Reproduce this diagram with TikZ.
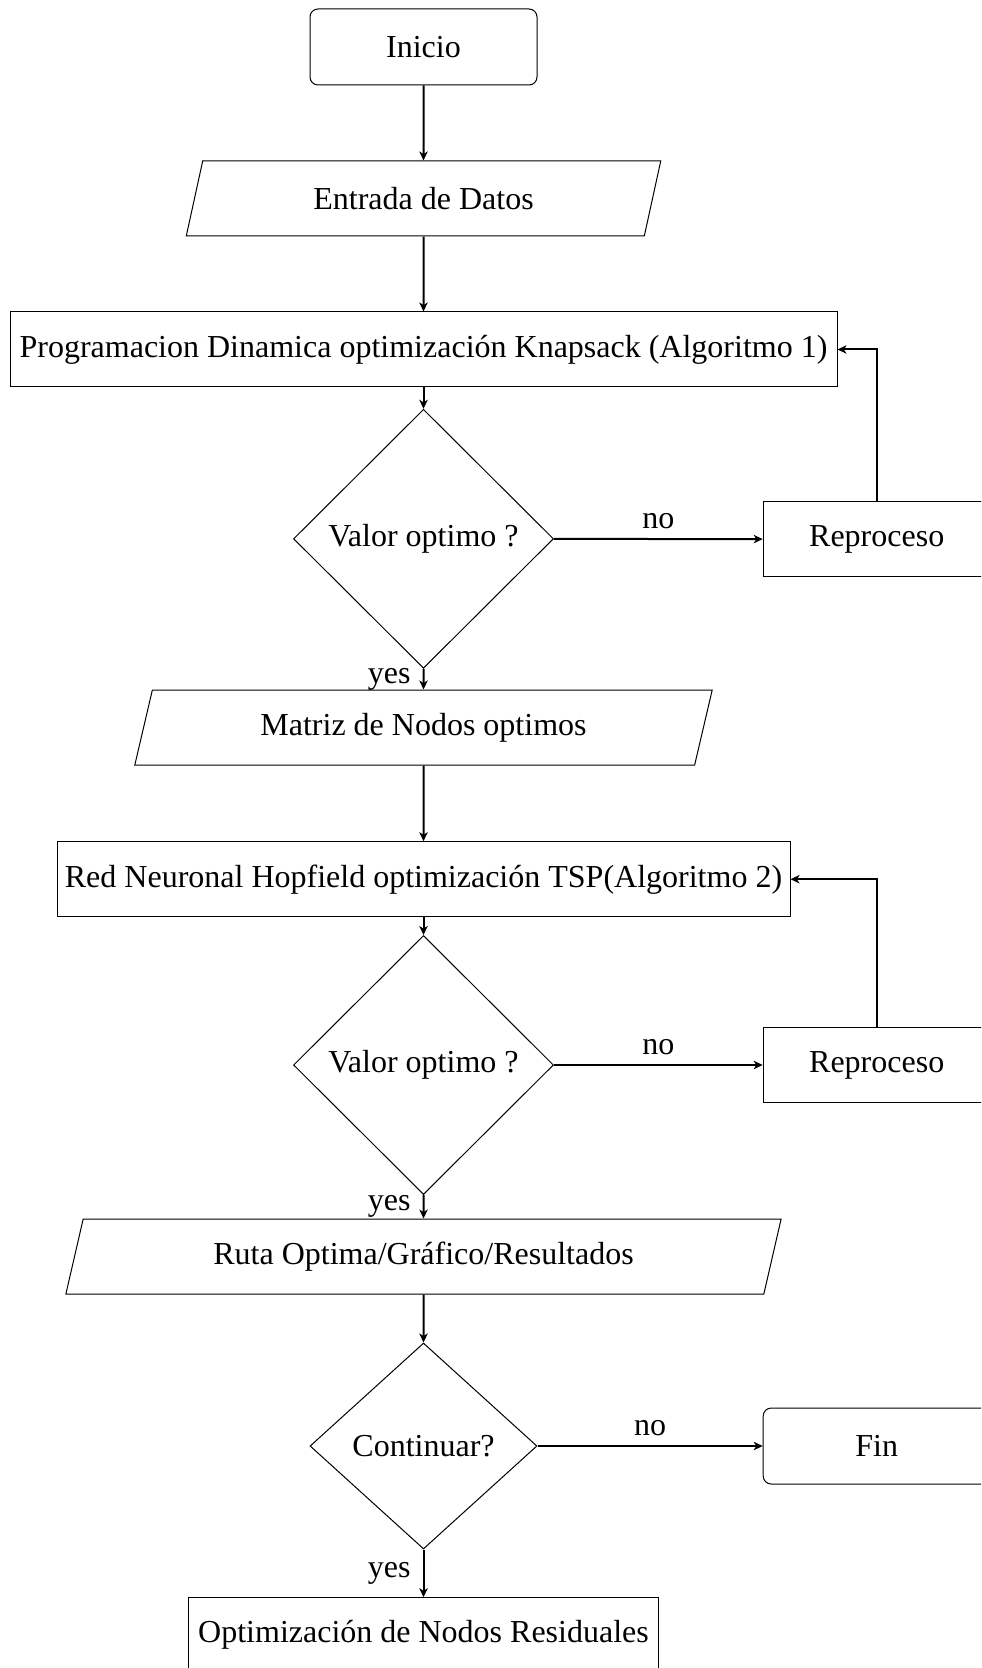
\documentclass[tikz,border=0pt]{standalone}
\usepackage{fontspec}
\setmainfont{Liberation Serif}
\usetikzlibrary{shapes.geometric,arrows.meta}
\begin{document}
\begin{tikzpicture}[x=0.5pt,y=-0.5pt,
  base/.style={draw=black, line width=0.5pt, font=\fontsize{16}{19}\selectfont,
    align=center, inner sep=0pt},
  startstop/.style={base, rectangle, rounded corners=4pt,
    minimum width=113.5pt, minimum height=38pt},
  io/.style={base, trapezium, trapezium left angle=70, trapezium right angle=110,
    trapezium stretches=true, minimum height=37.5pt},
  process/.style={base, rectangle, minimum height=37.5pt},
  decision/.style={base, diamond},
  flow/.style={-{Stealth[length=4.5pt, width=4.2pt, inset=1.3pt]}, line width=1pt},
  lbl/.style={font=\fontsize{16}{19}\selectfont, inner sep=0pt}
]
\clip (0,0) rectangle (981,1668);

% main column
\node[startstop] (start) at (423.5,47) {Inicio};
\node[io, minimum width=237.5pt] (input) at (423.5,198.5) {Entrada de Datos};
\node[process, minimum width=413.5pt] (dp) at (423.5,349.5)
  {Programacion Dinamica optimización Knapsack (Algoritmo 1)};
\node[decision, minimum width=130pt, minimum height=129.5pt] (dec1) at (423.5,538.8)
  {Valor optimo ?};
\node[io, minimum width=289pt] (matrix) at (423.5,727.5) {Matriz de Nodos optimos};
\node[process, minimum width=366.5pt] (hop) at (423.5,879.2)
  {Red Neuronal Hopfield optimización TSP(Algoritmo 2)};
\node[decision, minimum width=130pt, minimum height=129.5pt] (dec2) at (423.5,1065)
  {Valor optimo ?};
\node[io, minimum width=358.5pt] (route) at (423.5,1256.5)
  {Ruta Optima/Gráfico/Resultados};
\node[decision, minimum width=113.5pt, minimum height=103pt] (dec3) at (423.5,1446)
  {Continuar?};
\node[process, minimum width=235pt] (resid) at (423.5,1635.2)
  {Optimización de Nodos Residuales};

% side column
\node[process, minimum width=113.5pt] (rep1) at (876.7,539.2) {Reproceso};
\node[process, minimum width=113.5pt] (rep2) at (876.7,1065) {Reproceso};
\node[startstop] (fin) at (876.7,1446) {Fin};

% connectors
\draw[flow] (start) -- (input);
\draw[flow] (input) -- (dp);
\draw[flow] (dp) -- (dec1);
\draw[flow] (dec1) -- node[lbl, midway, above=4.5pt] {no} (rep1);
\draw[flow] (rep1.north) |- (dp.east);
\draw[flow] (dec1) -- node[lbl, midway, left=6pt] {yes} (matrix);
\draw[flow] (matrix) -- (hop);
\draw[flow] (hop) -- (dec2);
\draw[flow] (dec2) -- node[lbl, midway, above=4.5pt] {no} (rep2);
\draw[flow] (rep2.north) |- (hop.east);
\draw[flow] (dec2) -- node[lbl, midway, left=6pt] {yes} (route);
\draw[flow] (route) -- (dec3);
\draw[flow] (dec3) -- node[lbl, midway, above=4.5pt] {no} (fin);
\draw[flow] (dec3) -- node[lbl, midway, left=6pt] {yes} (resid);
\end{tikzpicture}
\end{document}
